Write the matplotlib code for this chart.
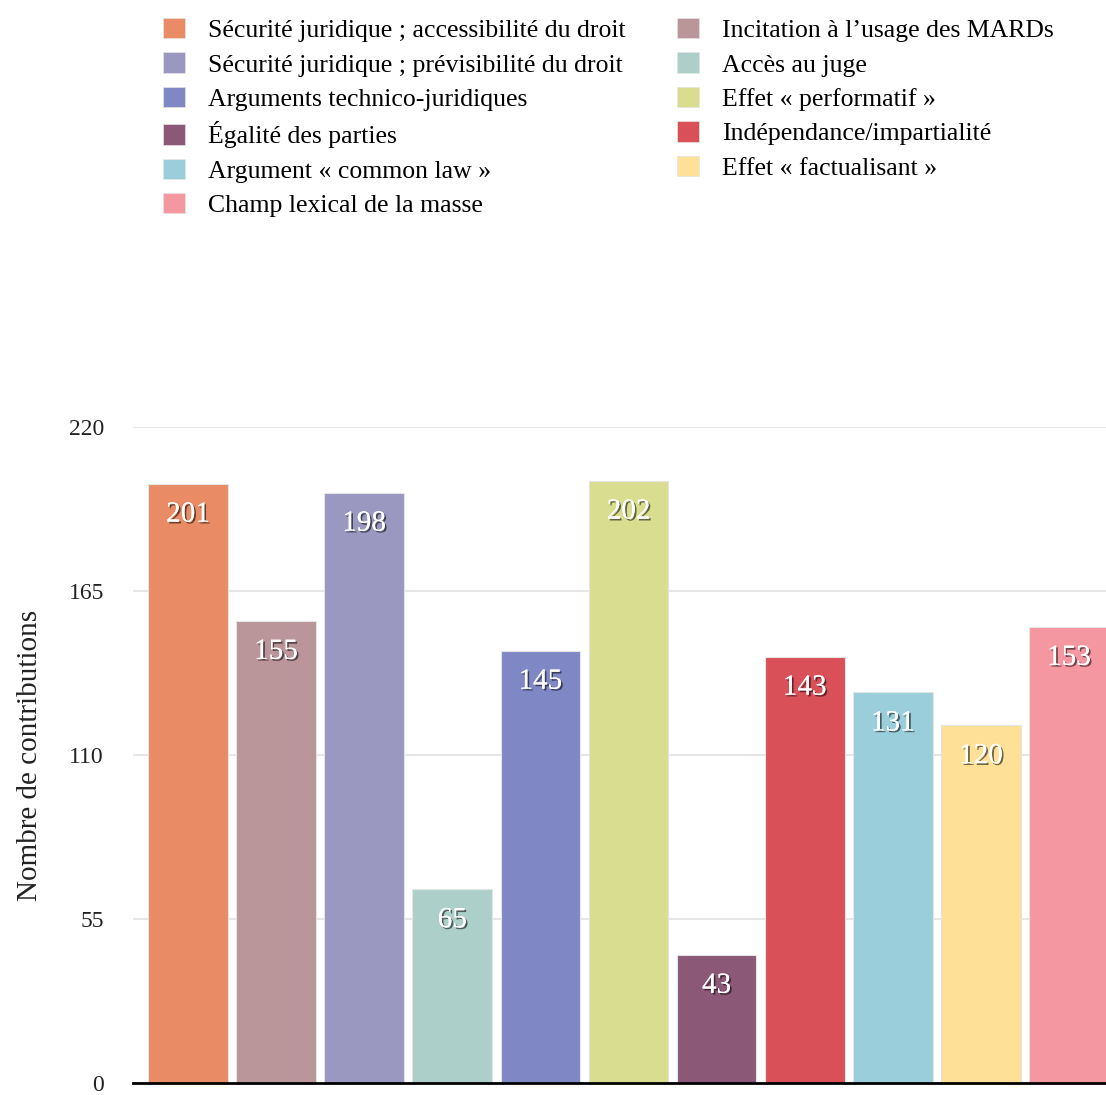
import matplotlib
matplotlib.use("Agg")
import matplotlib.pyplot as plt
import matplotlib.patheffects as pe
from matplotlib.patches import Patch

categories = [
    "Sécurité juridique ; accessibilité du droit",
    "Incitation à l\u2019usage des MARDs",
    "Sécurité juridique ; prévisibilité du droit",
    "Accès au juge",
    "Arguments technico-juridiques",
    "Effet « performatif »",
    "Égalité des parties",
    "Indépendance/impartialité",
    "Argument « common law »",
    "Effet « factualisant »",
    "Champ lexical de la masse",
]
values = [201, 155, 198, 65, 145, 202, 43, 143, 131, 120, 153]
colors = [
    "#E98B65", "#BA9599", "#9A97C1", "#ADCFC9", "#7F88C5", "#D9DD8F",
    "#8B5878", "#DA5059", "#9ACEDA", "#FEE096", "#F497A1",
]
yticks = [0, 55, 110, 165, 220]

plt.rcParams["font.family"] = ["Liberation Serif", "DejaVu Serif"]

fig = plt.figure(figsize=(11.06, 10.95), dpi=100)
ax = fig.add_axes([133 / 1106, 1 - 1083 / 1095, 1 - 133 / 1106, (1083 - 427) / 1095])

x = list(range(len(values)))
ax.bar(x, values, width=0.905, color=colors, edgecolor="#e4e4e4", linewidth=0.8, zorder=2)

shadow = [pe.withSimplePatchShadow(offset=(1.3, -1.3), shadow_rgbFace="black", alpha=0.55), pe.Normal()]
for xi, v in zip(x, values):
    ax.annotate(str(v), (xi, v), xytext=(0, -31), textcoords="offset pixels",
                ha="center", va="center", fontsize=21, color="white",
                path_effects=shadow, zorder=3)

ax.set_xlim(-0.624, 10.42)
ax.set_ylim(0, 220)
ax.set_yticks(yticks)
ax.set_yticklabels([str(t) for t in yticks], fontsize=17, color="#222222")
ax.set_xticks([])
ax.tick_params(axis="y", length=0, pad=21)
ax.grid(axis="y", color="#e2e2e2", linewidth=1.2, zorder=0)
ax.set_axisbelow(True)
for side in ["left", "right", "top"]:
    ax.spines[side].set_visible(False)
ax.spines["bottom"].set_color("black")
ax.spines["bottom"].set_linewidth(2.0)
ax.spines["bottom"].set_zorder(4)
ax.set_ylabel("Nombre de contributions", fontsize=21, color="#222222", labelpad=18)

# legend is filled row by row in the original, matplotlib fills column by column
order = list(range(0, len(values), 2)) + list(range(1, len(values), 2))
handles = [Patch(facecolor=colors[i], edgecolor="#e4e4e4", linewidth=0.5) for i in order]
labels = [categories[i] for i in order]
fig.legend(handles, labels, loc="upper left", bbox_to_anchor=(163 / 1106, 1 - 18 / 1095),
           ncol=2, frameon=False, fontsize=18.5, handlelength=0.85, handleheight=0.85,
           handletextpad=0.9, labelspacing=0.4, columnspacing=2.0,
           borderpad=0, borderaxespad=0)

fig.savefig("out.png", dpi=100)
